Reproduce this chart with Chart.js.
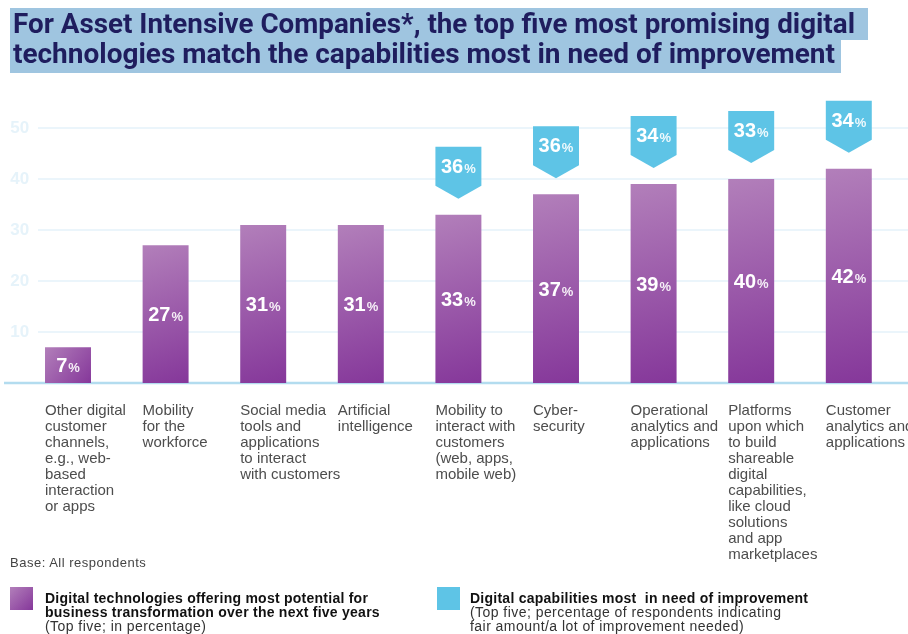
<!DOCTYPE html>
<html>
<head>
<meta charset="utf-8">
<script src="https://cdn.jsdelivr.net/npm/chart.js@4.4.1/dist/chart.umd.min.js"></script>
<style>
  html, body { margin: 0; padding: 0; background: #fff; }
  #page { position: relative; width: 908px; height: 634px; overflow: hidden; font-family: "Liberation Sans", Arial, sans-serif; }
  #wrap { position: absolute; left: 0; top: 0; width: 908px; height: 634px; }
  .hl { position: absolute; left: 10px; background: #9fc5e0; white-space: nowrap; overflow: visible; }
  .hl span { display: inline-block; padding-left: 3px; transform-origin: 0 50%;
             font-family: Roboto, "Liberation Sans", sans-serif; font-weight: 700; font-size: 28px; color: #1f1d5e; }
  #t1 { top: 8px; height: 32px; width: 858px; line-height: 32px; }
  #t2 { top: 40px; height: 33px; width: 831px; line-height: 27px; }
  #base { position: absolute; left: 10px; top: 555px; font-size: 13px; letter-spacing: 0.5px; color: #444; }
  .key { position: absolute; top: 587px; width: 23px; height: 23px; }
  .keytext { position: absolute; top: 591px; font-size: 14px; line-height: 14px; letter-spacing: 0.25px; color: #111; white-space: pre; }
  .keytext b { font-weight: 700; }
  .keytext span { color: #333; letter-spacing: 0.45px; }
</style>
</head>
<body>
<div id="page">
  <div id="wrap"><canvas id="chart"></canvas></div>
  <div class="hl" id="t1"><span>For Asset Intensive Companies*, the top five most promising digital</span></div>
  <div class="hl" id="t2"><span>technologies match the capabilities most in need of improvement</span></div>
  <div id="base">Base: All respondents</div>
  <div class="key" style="left:10px;background:linear-gradient(135deg,#b27fba,#85379a);"></div>
  <div class="keytext" style="left:45px;"><b>Digital technologies offering most potential for
business transformation over the next five years</b>
<span>(Top five; in percentage)</span></div>
  <div class="key" style="left:437px;background:#5ec4e6;"></div>
  <div class="keytext" style="left:470px;"><b>Digital capabilities most  in need of improvement</b>
<span>(Top five; percentage of respondents indicating
fair amount/a lot of improvement needed)</span></div>
</div>
<script>
const categories = [
  ['Other digital', 'customer', 'channels,', 'e.g., web-', 'based', 'interaction', 'or apps'],
  ['Mobility', 'for the', 'workforce'],
  ['Social media', 'tools and', 'applications', 'to interact', 'with customers'],
  ['Artificial', 'intelligence'],
  ['Mobility to', 'interact with', 'customers', '(web, apps,', 'mobile web)'],
  ['Cyber-', 'security'],
  ['Operational', 'analytics and', 'applications'],
  ['Platforms', 'upon which', 'to build', 'shareable', 'digital', 'capabilities,', 'like cloud', 'solutions', 'and app', 'marketplaces'],
  ['Customer', 'analytics and', 'applications']
];
const potentialValues = [7, 27, 31, 31, 33, 37, 39, 40, 42];
const improvementValues = [null, null, null, null, 36, 36, 34, 33, 34];
const yTicks = [0, 10, 20, 30, 40, 50];

// squeeze the title lines to their set widths
[['t1', 845], ['t2', 825]].forEach(([id, w]) => {
  const s = document.querySelector('#' + id + ' span');
  const k = w / s.getBoundingClientRect().width;
  s.style.transform = 'scaleX(' + k + ')';
});

// "27%" style label: big digits, small percent sign
function drawPct(ctx, value, cx, cy) {
  const num = String(value);
  ctx.save();
  ctx.fillStyle = '#fff';
  ctx.textBaseline = 'alphabetic';
  ctx.textAlign = 'left';
  const bigFont = '700 20px "Liberation Sans", Arial, sans-serif';
  const smallFont = '700 13px "Liberation Sans", Arial, sans-serif';
  ctx.font = bigFont;
  const w1 = ctx.measureText(num).width;
  ctx.font = smallFont;
  const w2 = ctx.measureText('%').width;
  const x0 = cx - (w1 + w2 + 1) / 2;
  const base = cy + 7;
  ctx.font = bigFont;
  ctx.fillText(num, x0, base);
  ctx.font = smallFont;
  ctx.globalAlpha = 0.9;
  ctx.fillText('%', x0 + w1 + 1, base);
  ctx.restore();
}

const gridPlugin = {
  id: 'gridLines',
  beforeDatasetsDraw(chart) {
    const { ctx, scales: { y }, width } = chart;
    ctx.save();
    yTicks.forEach(v => {
      const py = y.getPixelForValue(v);
      ctx.beginPath();
      if (v === 0) {
        ctx.strokeStyle = '#b3dcef';
        ctx.lineWidth = 2.5;
        ctx.moveTo(4, py);
      } else {
        ctx.strokeStyle = '#ebf5fb';
        ctx.lineWidth = 2;
        ctx.moveTo(38, py);
      }
      ctx.lineTo(width, py);
      ctx.stroke();
    });
    ctx.restore();
  }
};

const labelPlugin = {
  id: 'barLabels',
  afterDatasetsDraw(chart) {
    const { ctx } = chart;
    const meta = chart.getDatasetMeta(0);
    meta.data.forEach((bar, i) => {
      drawPct(ctx, potentialValues[i], bar.x, (bar.y + bar.base) / 2);

      const cap = improvementValues[i];
      if (cap == null) return;
      // pointed tag above the bar
      const half = bar.width / 2;
      const tip = bar.y - 16;
      const rectBottom = tip - 13;
      const top = rectBottom - 39;
      ctx.save();
      ctx.fillStyle = '#5ec4e6';
      ctx.beginPath();
      ctx.moveTo(bar.x - half, top);
      ctx.lineTo(bar.x + half, top);
      ctx.lineTo(bar.x + half, rectBottom);
      ctx.lineTo(bar.x, tip);
      ctx.lineTo(bar.x - half, rectBottom);
      ctx.closePath();
      ctx.fill();
      ctx.restore();
      drawPct(ctx, cap, bar.x, top + 19);
    });
  }
};

function barFill(c) {
  const { chart } = c;
  const { x, y } = chart.scales;
  if (!x || !y || c.dataIndex == null) return '#9b5aa8';
  const cx = x.getPixelForValue(c.dataIndex);
  const top = y.getPixelForValue(potentialValues[c.dataIndex]);
  const bottom = y.getPixelForValue(0);
  if (![cx, top, bottom].every(Number.isFinite)) return '#9b5aa8';
  const g = chart.ctx.createLinearGradient(cx - 23, top, cx + 23, bottom);
  g.addColorStop(0, '#b27fba');
  g.addColorStop(1, '#85379a');
  return g;
}

new Chart(document.getElementById('chart'), {
  type: 'bar',
  data: {
    labels: categories,
    datasets: [{
      label: 'Digital technologies offering most potential for business transformation over the next five years',
      data: potentialValues,
      backgroundColor: barFill,
      borderWidth: 0,
      barPercentage: 0.471,
      categoryPercentage: 1
    }]
  },
  options: {
    responsive: true,
    maintainAspectRatio: false,
    animation: false,
    layout: { padding: { left: 19.2, right: 10.4, top: 128, bottom: 0 } },
    plugins: { legend: { display: false }, tooltip: { enabled: false } },
    scales: {
      x: {
        grid: { display: false, drawTicks: false },
        border: { display: false },
        ticks: {
          autoSkip: false,
          maxRotation: 0,
          align: 'start',
          labelOffset: -23,
          padding: 20,
          color: '#4d4d4d',
          font: { family: '"Liberation Sans", Arial, sans-serif', size: 15, lineHeight: '16px' }
        },
        afterFit: (s) => {
          s.height = 251;
          // labels may run past the plot edges; keep the plot width fixed
          s.paddingLeft = 0;
          s.paddingRight = 0;
        }
      },
      y: {
        min: 0,
        max: 50,
        grid: { display: false, drawTicks: false },
        border: { display: false },
        ticks: {
          stepSize: 10,
          mirror: true,
          padding: -9,
          color: '#e6f3fa',
          font: { family: '"Liberation Sans", Arial, sans-serif', size: 17, weight: 'bold' },
          callback: (v) => (v === 0 ? '' : v)
        },
        afterFit: (s) => { s.width = 0; }
      }
    }
  },
  plugins: [gridPlugin, labelPlugin]
});
</script>
</body>
</html>
